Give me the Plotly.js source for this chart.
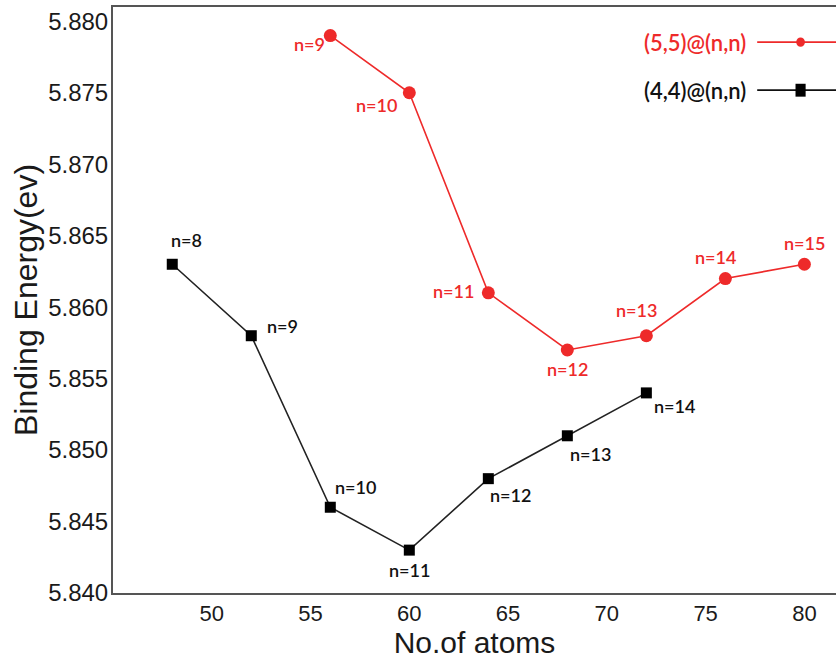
<!DOCTYPE html>
<html>
<head>
<meta charset="utf-8">
<script src="https://cdn.plot.ly/plotly-3.0.1.min.js"></script>
<style>html,body{margin:0;padding:0;background:#fff;}#chart{width:836px;height:661px;}</style>
</head>
<body>
<div id="chart"></div>
<script>
// Data
const atoms44 = [48, 52, 56, 60, 64, 68, 72];
const energy44 = [5.863, 5.858, 5.846, 5.843, 5.848, 5.851, 5.854];
const labels44 = ["n=8", "n=9", "n=10", "n=11", "n=12", "n=13", "n=14"];

const atoms55 = [56, 60, 64, 68, 72, 76, 80];
const energy55 = [5.879, 5.875, 5.861, 5.857, 5.858, 5.862, 5.863];
const labels55 = ["n=9", "n=10", "n=11", "n=12", "n=13", "n=14", "n=15"];

const seriesNames = ["(5,5)@(n,n)", "(4,4)@(n,n)"];
const xTicks = [50, 55, 60, 65, 70, 75, 80];
const yTicks = [5.840, 5.845, 5.850, 5.855, 5.860, 5.865, 5.870, 5.875, 5.880];

// label offsets in px (style only)
const off44 = [[14,-24],[31,-10],[25,-20],[0,20],[22,16],[23,18],[28,13]];
const off55 = [[-21,8],[-33,12],[-35,-2],[0,19],[-10,-26],[-10,-22],[0,-21]];

const RED = "#ee2a2a";
const BLACK = "#000000";
const AX = "'Liberation Sans', Arial, sans-serif";
const LBL = "Lato, 'Open Sans', sans-serif";

const traces = [
  {x: atoms44, y: energy44, mode: "lines+markers", name: seriesNames[1],
   line: {color: "#222", width: 1.6},
   marker: {symbol: "square", size: 11, color: BLACK}},
  {x: atoms55, y: energy55, mode: "lines+markers", name: seriesNames[0],
   line: {color: RED, width: 1.6},
   marker: {symbol: "circle", size: 13, color: RED}}
];

const labelFont = {family: LBL, size: 18, weight: 600};
const annotations = [];
atoms44.forEach((x, i) => annotations.push({x: x, y: energy44[i], text: labels44[i], showarrow: false,
  xshift: off44[i][0], yshift: -off44[i][1], font: Object.assign({color: "#111"}, labelFont)}));
atoms55.forEach((x, i) => annotations.push({x: x, y: energy55[i], text: labels55[i], showarrow: false,
  xshift: off55[i][0], yshift: -off55[i][1], font: Object.assign({color: RED}, labelFont)}));

// manual legend (text left of sample)
const legY = [0.940, 0.858];
const legColors = [RED, "#111"];
seriesNames.forEach((nm, i) => {
  annotations.push({xref: "paper", yref: "paper", x: 0.878, y: legY[i], xanchor: "right", yanchor: "middle",
    text: nm, showarrow: false, font: {family: LBL, size: 22, weight: 600, color: legColors[i]}});
});
const shapes = [];
seriesNames.forEach((nm, i) => {
  shapes.push({type: "line", xref: "paper", yref: "paper", x0: 0.891, x1: 1.0, y0: legY[i], y1: legY[i],
    line: {color: i === 0 ? RED : "#111", width: 1.8}});
});
shapes.push({type: "circle", xref: "paper", yref: "paper", x0: 0.945, x1: 0.957, y0: legY[0]-0.008, y1: legY[0]+0.008,
  fillcolor: RED, line: {color: RED, width: 0}});
shapes.push({type: "rect", xref: "paper", yref: "paper", x0: 0.944, x1: 0.958, y0: legY[1]-0.011, y1: legY[1]+0.011,
  fillcolor: BLACK, line: {color: BLACK, width: 0}});

const layout = {
  width: 836, height: 661,
  margin: {l: 113, r: 0, t: 7, b: 68},
  paper_bgcolor: "#fff", plot_bgcolor: "#fff",
  showlegend: false,
  xaxis: {range: [45, 81.6], tickvals: xTicks, ticks: "", showgrid: false, zeroline: false,
    showline: true, linecolor: "#555", linewidth: 2, mirror: true,
    tickfont: {family: AX, size: 22, color: "#1a1a1a"},
    title: {text: "No.of atoms", font: {family: AX, size: 30, color: "#1a1a1a"}, standoff: 4}},
  yaxis: {range: [5.840, 5.881], tickvals: yTicks, tickformat: ".3f", ticks: "", showgrid: false, zeroline: false,
    showline: true, linecolor: "#555", linewidth: 2, ticklabelstandoff: -2,
    tickfont: {family: AX, size: 24, color: "#1a1a1a"},
    title: {text: "Binding Energy(ev)", font: {family: AX, size: 32, color: "#1a1a1a"}, standoff: 1}},
  annotations: annotations,
  shapes: shapes
};

Plotly.newPlot("chart", traces, layout, {displayModeBar: false, staticPlot: true});
</script>
</body>
</html>
